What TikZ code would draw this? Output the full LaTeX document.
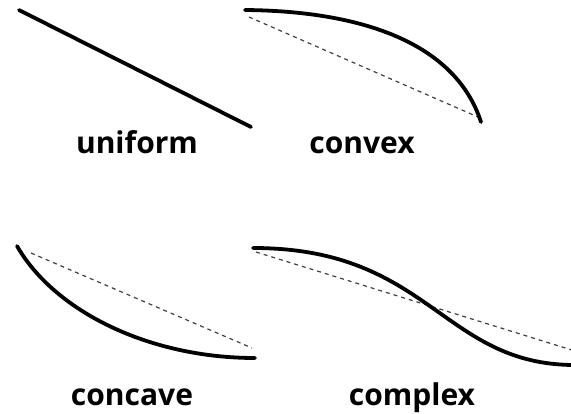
\documentclass[tikz,border=0pt]{standalone}
\usepackage{fontspec}
\setmainfont{Open Sans}
\usepackage{tikz}
\usetikzlibrary{positioning}

\begin{document}
\begin{tikzpicture}[x=1pt, y=-1pt,
      curve/.style={line width=3.8pt, line cap=round},
      chord/.style={dashed, line width=1.2pt, gray!50!black, dash pattern=on 4pt off 4pt},
      lbl/.style={anchor=base, font=\fontsize{30}{36}\selectfont\bfseries, inner sep=0pt}]
    \useasboundingbox (0,0) rectangle (571,413);
    % uniform
    \coordinate (ua) at (19,10);
    \coordinate (ub) at (251,127);
    \draw[curve] (ua) -- (ub);
    \node[lbl] (ul) at (137,153) {uniform};
    % convex
    \coordinate (va) at (245,10);
    \coordinate (vb) at (481,122);
    \draw[chord] (249,17) -- (478,117);
    \draw[curve] (va) .. controls (360,11) and (455,42) .. (vb);
    \node[lbl] (vl) at (362,153) {convex};
    % concave
    \coordinate (ca) at (17,246);
    \coordinate (cb) at (255,358);
    \draw[chord] (31,253) -- (252,348);
    \draw[curve] (ca) .. controls (55,312) and (150,358) .. (cb);
    \node[lbl] (cl) at (132,405) {concave};
    % complex
    \coordinate (xa) at (253,248);
    \coordinate (xb) at (575,365);
    \draw[chord] (256,252) -- (575,351);
    \draw[curve] (xa) .. controls (430,248) and (442,365) .. (xb);
    \node[lbl] (xl) at (412,405) {complex};
  \end{tikzpicture}
\end{document}
